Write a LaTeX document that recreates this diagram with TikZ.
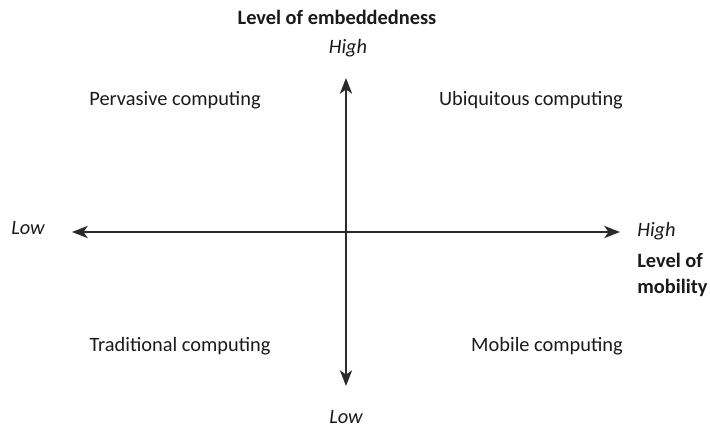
\documentclass[tikz,border=0pt]{standalone}
\usepackage{fontspec}
\setmainfont{Carlito}
\usepackage{xcolor}
\usepackage{tikz}
\usetikzlibrary{arrows.meta}
\definecolor{ink}{HTML}{1A1A1A}
\definecolor{axisc}{HTML}{2B2B2B}
\tikzset{
  axis/.style={draw=axisc, line width=0.8pt, {Stealth[length=9pt,width=7pt,inset=2.5pt]}-{Stealth[length=9pt,width=7pt,inset=2.5pt]}},
  quad/.style={text=ink, font=\fontsize{11.6}{13}\selectfont, inner sep=0pt},
  tick/.style={text=ink, font=\fontsize{11.6}{13}\selectfont\itshape, inner sep=0pt},
  ttl/.style={text=ink, font=\fontsize{11.6}{14.5}\selectfont\bfseries, inner sep=0pt, align=left},
}
\begin{document}
\begin{tikzpicture}[x=0.02cm,y=-0.02cm]
  \useasboundingbox (0,0) rectangle (710,427);
  % axes ends
  \coordinate (left) at (72,232);
  \coordinate (right) at (620,232);
  \coordinate (top) at (346,78);
  \coordinate (bottom) at (346,386);
  \draw[axis] (left) -- (right);
  \draw[axis] (bottom) -- (top);
  % axis titles
  \node[ttl] (embed) at (337,17) {Level of embeddedness};
  \node[ttl, anchor=west] (mobil) at (637,275) {Level of\\mobility};
  % ends
  \node[tick] (vhigh) at (348,48) {High};
  \node[tick] (vlow) at (346,417) {Low};
  \node[tick] (hlow) at (28,228) {Low};
  \node[tick, anchor=west] (hhigh) at (637,231) {High};
  % quadrants
  \node[quad] (perv) at (175,100) {Pervasive computing};
  \node[quad] (ubiq) at (531,100) {Ubiquitous computing};
  \node[quad] (trad) at (180,346) {Traditional computing};
  \node[quad] (mob) at (547,346) {Mobile computing};
\end{tikzpicture}
\end{document}
